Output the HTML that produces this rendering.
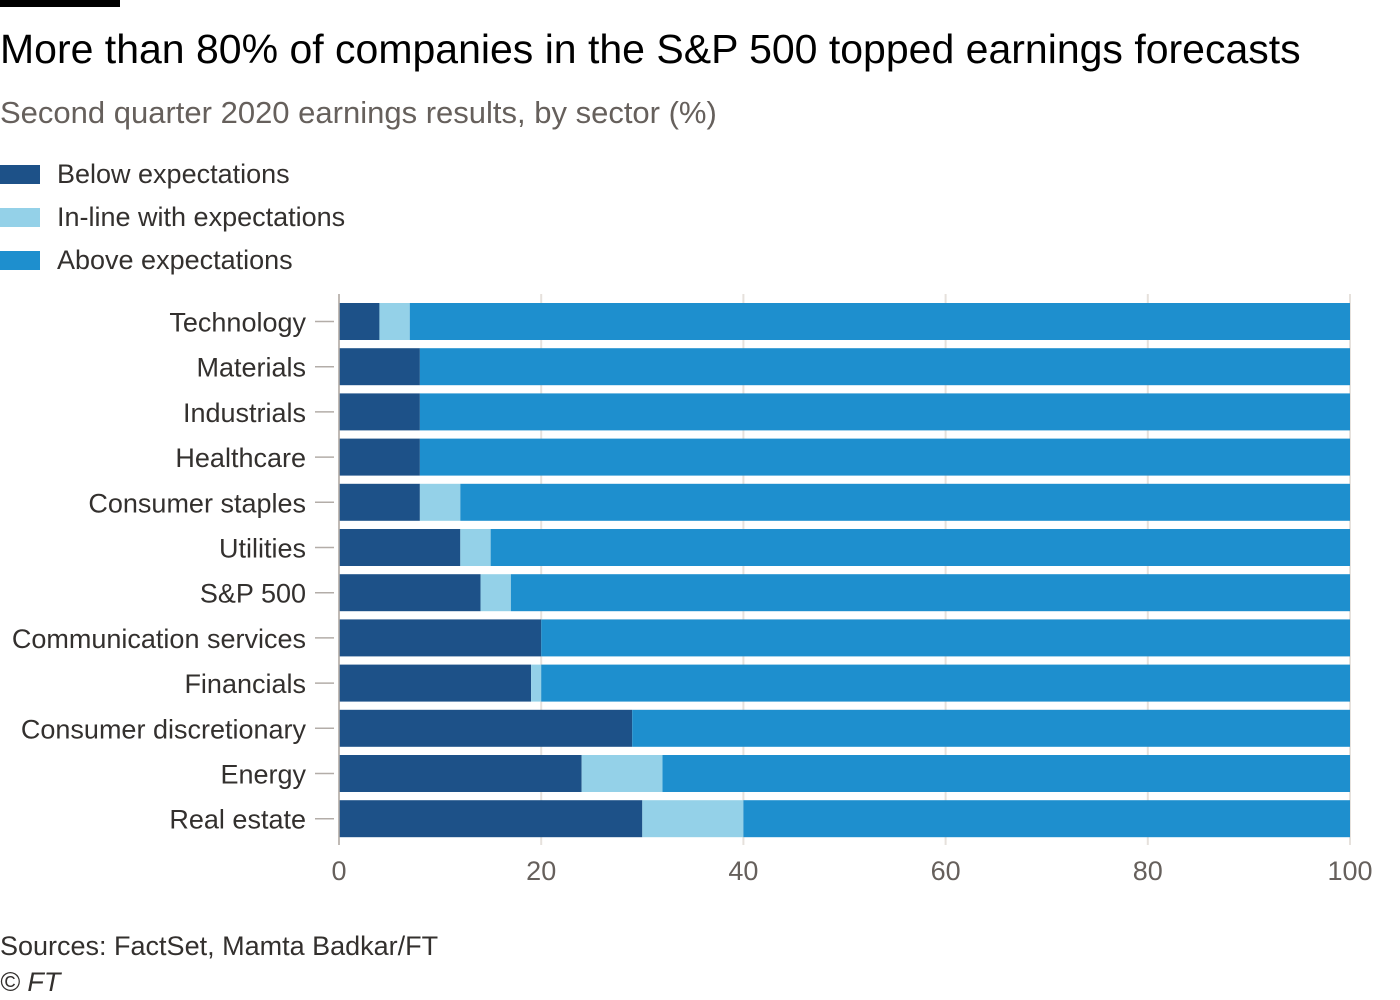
<!DOCTYPE html>
<html><head><meta charset="utf-8"><style>
body{margin:0;width:1400px;height:1000px;background:#fff;font-family:"Liberation Sans",sans-serif;color:#33302e;position:relative;overflow:hidden}
.t{position:absolute;white-space:nowrap}
</style></head><body>
<div style="position:absolute;left:0;top:0;width:120px;height:7px;background:#000"></div>
<div class="t" style="left:0;top:26px;font-size:41px;color:#000">More than 80% of companies in the S&amp;P 500 topped earnings forecasts</div>
<div class="t" style="left:0;top:95px;font-size:31px;color:#66605c">Second quarter 2020 earnings results, by sector (%)</div>
<div>
<div><div style="position:absolute;left:0;top:165px;width:40px;height:19px;background:#1d5188"></div><div class="t" style="left:57px;top:159px;font-size:27px">Below expectations</div></div>
<div><div style="position:absolute;left:0;top:208px;width:40px;height:19px;background:#94d1e8"></div><div class="t" style="left:57px;top:202px;font-size:27px">In-line with expectations</div></div>
<div><div style="position:absolute;left:0;top:251px;width:40px;height:19px;background:#1e8fce"></div><div class="t" style="left:57px;top:245px;font-size:27px">Above expectations</div></div>
</div>
<svg id="chart" width="1400" height="1000" style="position:absolute;left:0;top:0"></svg>
<div class="t" style="left:0;top:931px;font-size:27px;color:#33302e">Sources: FactSet, Mamta Badkar/FT</div>
<div class="t" style="left:0;top:967px;font-size:27px;font-style:italic;color:#33302e">© FT</div>
<script>
const categories=["Technology","Materials","Industrials","Healthcare","Consumer staples","Utilities","S&P 500","Communication services","Financials","Consumer discretionary","Energy","Real estate"];
const below=[4,8,8,8,8,12,14,20,19,29,24,30];
const inline=[3,0,0,0,4,3,3,0,1,0,8,10];
const above=[93,92,92,92,88,85,83,80,80,71,68,60];
const ticks=[0,20,40,60,80,100];
const NS="http://www.w3.org/2000/svg";
const svg=document.getElementById('chart');
const x=v=>339+v*10.11;
const y=i=>303+i*45.2;
const bh=37;
function mk(tag,attrs){const e=document.createElementNS(NS,tag);for(const k in attrs)e.setAttribute(k,attrs[k]);svg.appendChild(e);return e;}
ticks.forEach(t=>{
 const g=mk('line',{x1:x(t),x2:x(t),y1:294,y2:845,stroke:'#e6e1dc','stroke-width':2});
 
 
 const l=mk('text',{x:x(t),y:880,'text-anchor':'middle','font-size':27,fill:'#66605c','font-family':'Liberation Sans, sans-serif'});
 l.textContent=t;
 
 
});
const cols=['#1d5188','#94d1e8','#1e8fce'];
categories.forEach((c,i)=>{
 let start=0;
 [below[i],inline[i],above[i]].forEach((v,k)=>{
  if(v>0){const r=mk('rect',{x:x(start),y:y(i),width:x(start+v)-x(start),height:bh,fill:cols[k]});
  
  }
  start+=v;
 });
 const tk=mk('line',{x1:315,x2:334,y1:y(i)+bh/2,y2:y(i)+bh/2,stroke:'#b3ada8','stroke-width':1.5});
 
 
 const t=mk('text',{x:306,y:y(i)+bh/2+10,'text-anchor':'end','font-size':27,fill:'#33302e','font-family':'Liberation Sans, sans-serif'});
 t.textContent=c;
 
 
});
const ax=mk('line',{x1:339,x2:339,y1:294,y2:845,stroke:'#b3ada8','stroke-width':1.5});


</script>
</body></html>
